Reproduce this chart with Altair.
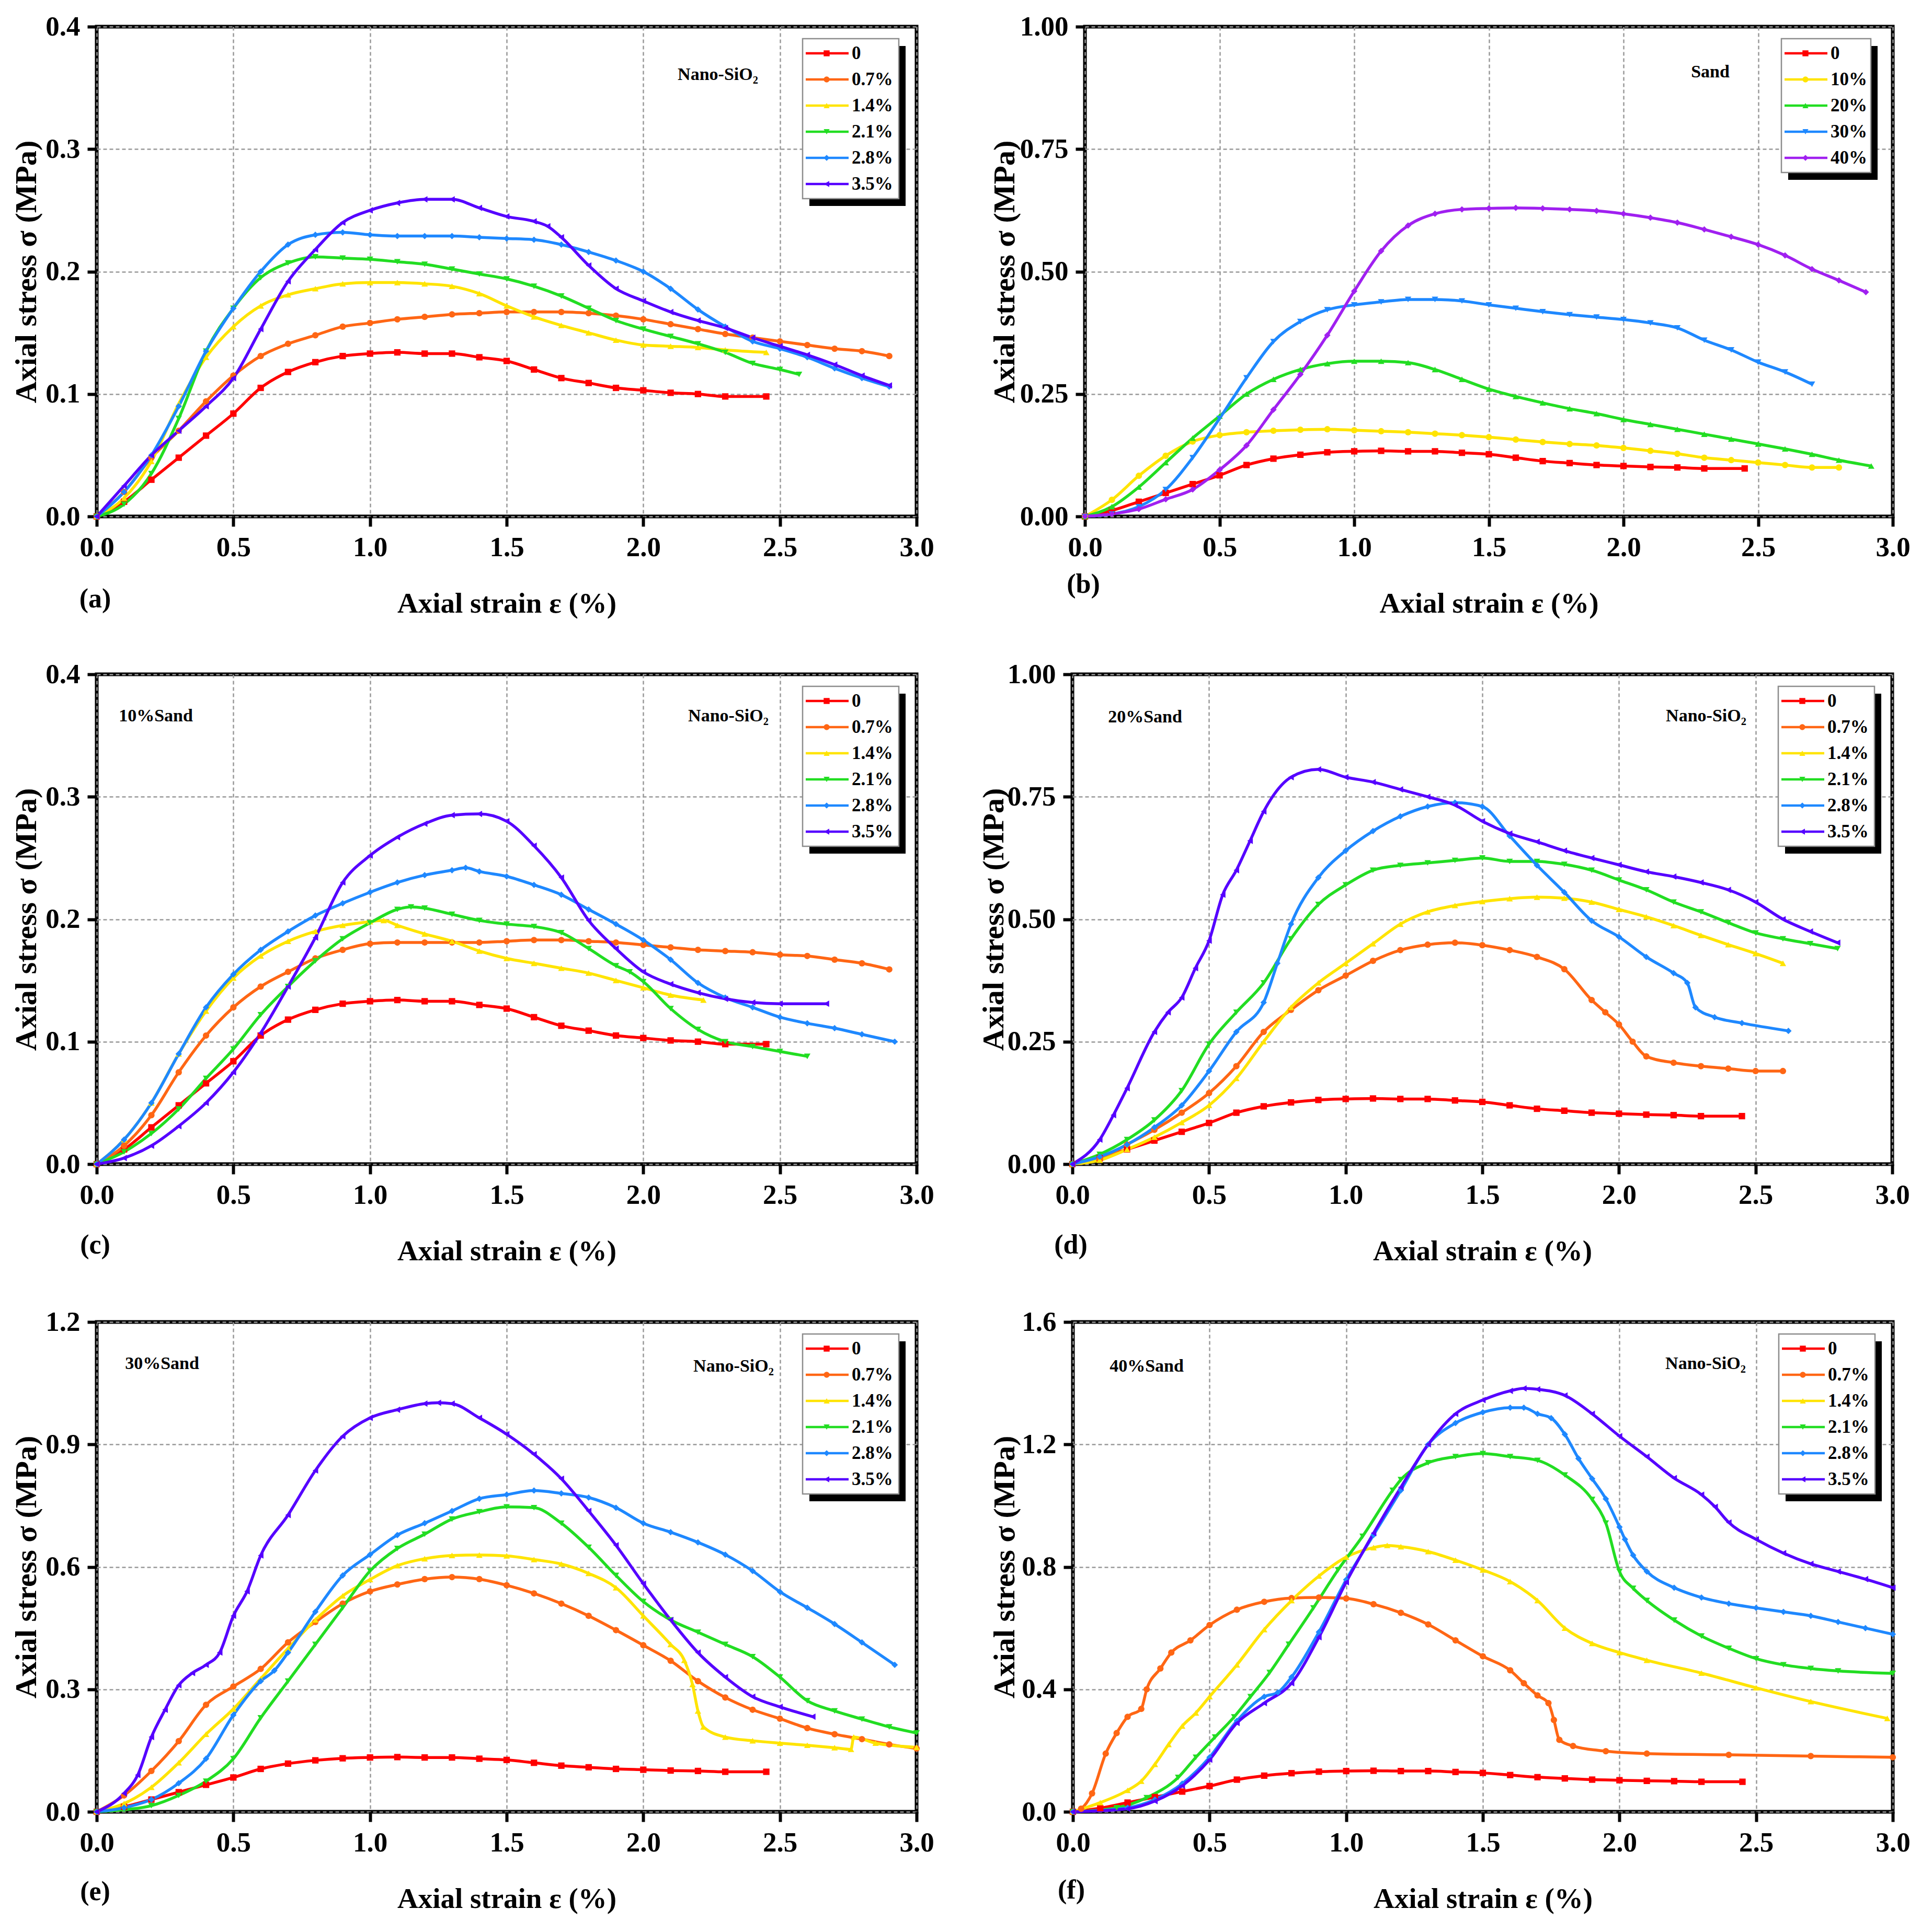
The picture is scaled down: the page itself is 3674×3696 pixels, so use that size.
import altair as alt
import pandas as pd

FONT = "Liberation Serif"
H = 937
XMAX = 3.0
STRAIN_TICKS = [0.0, 0.5, 1.0, 1.5, 2.0, 2.5, 3.0]

NANO_LABELS = ["0", "0.7%", "1.4%", "2.1%", "2.8%", "3.5%"]
NANO_COLORS = ["#FF0000", "#FF6614", "#FFE400", "#22DD22", "#1E88FF", "#5500FF"]
SAND_LABELS = ["0", "10%", "20%", "30%", "40%"]
SAND_COLORS = ["#FF0000", "#FFE400", "#22DD22", "#1E88FF", "#A020F0"]
SHAPES = ["square", "circle", "triangle-up", "triangle-down", "diamond", "triangle-left"]

# ---- base specimen (0) shared by all panels ----
BASE = [(0, 0), (0.1, 0.012), (0.2, 0.03), (0.3, 0.048), (0.4, 0.066), (0.5, 0.084), (0.6, 0.105),
        (0.7, 0.118), (0.8, 0.126), (0.9, 0.131), (1.0, 0.133), (1.1, 0.134), (1.2, 0.133), (1.3, 0.133),
        (1.4, 0.13), (1.5, 0.127), (1.6, 0.12), (1.7, 0.113), (1.8, 0.109), (1.9, 0.105), (2.0, 0.103),
        (2.1, 0.101), (2.2, 0.1), (2.3, 0.098), (2.45, 0.098)]

# ---- (a) Nano-SiO2 only ----
A_07 = [(0, 0), (0.1, 0.02), (0.2, 0.048), (0.3, 0.07), (0.4, 0.094), (0.5, 0.115), (0.6, 0.131), (0.7, 0.141),
        (0.8, 0.148), (0.9, 0.155), (1.0, 0.158), (1.1, 0.161), (1.2, 0.163), (1.3, 0.165), (1.4, 0.166),
        (1.5, 0.167), (1.6, 0.167), (1.7, 0.167), (1.8, 0.166), (1.9, 0.164), (2.0, 0.161), (2.1, 0.157),
        (2.2, 0.153), (2.3, 0.149), (2.4, 0.146), (2.5, 0.143), (2.6, 0.14), (2.7, 0.137), (2.8, 0.135), (2.9, 0.131)]
A_14 = [(0, 0), (0.1, 0.015), (0.2, 0.045), (0.3, 0.092), (0.4, 0.13), (0.5, 0.155), (0.6, 0.172), (0.7, 0.181),
        (0.8, 0.186), (0.9, 0.19), (1.0, 0.191), (1.1, 0.191), (1.2, 0.19), (1.3, 0.188), (1.4, 0.182),
        (1.5, 0.172), (1.6, 0.163), (1.7, 0.156), (1.8, 0.15), (1.9, 0.144), (2.0, 0.14), (2.1, 0.139),
        (2.2, 0.138), (2.3, 0.136), (2.45, 0.134)]
A_21 = [(0, 0), (0.1, 0.01), (0.2, 0.035), (0.3, 0.08), (0.4, 0.135), (0.5, 0.17), (0.6, 0.195), (0.7, 0.207),
        (0.8, 0.212), (0.9, 0.211), (1.0, 0.21), (1.1, 0.208), (1.2, 0.206), (1.3, 0.202), (1.4, 0.198),
        (1.5, 0.194), (1.6, 0.188), (1.7, 0.18), (1.8, 0.17), (1.9, 0.16), (2.0, 0.153), (2.1, 0.147),
        (2.2, 0.141), (2.3, 0.134), (2.4, 0.125), (2.5, 0.12), (2.57, 0.116)]
A_28 = [(0, 0), (0.1, 0.02), (0.2, 0.05), (0.3, 0.09), (0.4, 0.135), (0.5, 0.17), (0.6, 0.2), (0.7, 0.222),
        (0.8, 0.23), (0.9, 0.232), (1.0, 0.23), (1.1, 0.229), (1.2, 0.229), (1.3, 0.229), (1.4, 0.228),
        (1.5, 0.227), (1.6, 0.226), (1.7, 0.222), (1.8, 0.216), (1.9, 0.209), (2.0, 0.2), (2.1, 0.186),
        (2.2, 0.169), (2.3, 0.155), (2.4, 0.143), (2.5, 0.137), (2.6, 0.13), (2.7, 0.121), (2.8, 0.113), (2.9, 0.106)]
A_35 = [(0, 0), (0.1, 0.025), (0.2, 0.05), (0.3, 0.07), (0.4, 0.09), (0.5, 0.113), (0.6, 0.153), (0.7, 0.192),
        (0.8, 0.218), (0.9, 0.24), (1.0, 0.25), (1.1, 0.256), (1.2, 0.259), (1.3, 0.259), (1.4, 0.252),
        (1.5, 0.245), (1.6, 0.241), (1.65, 0.237), (1.7, 0.228), (1.8, 0.205), (1.9, 0.186), (2.0, 0.176),
        (2.1, 0.167), (2.2, 0.16), (2.3, 0.154), (2.4, 0.146), (2.5, 0.139), (2.6, 0.132), (2.7, 0.124),
        (2.8, 0.115), (2.9, 0.107)]

# ---- (b) Sand only ----
B_10 = [(0, 0), (0.1, 0.034), (0.2, 0.083), (0.3, 0.124), (0.4, 0.153), (0.5, 0.166), (0.6, 0.172), (0.7, 0.175),
        (0.8, 0.177), (0.9, 0.178), (1.0, 0.176), (1.1, 0.174), (1.2, 0.172), (1.3, 0.169), (1.4, 0.166),
        (1.5, 0.162), (1.6, 0.157), (1.7, 0.152), (1.8, 0.148), (1.9, 0.145), (2.0, 0.14), (2.1, 0.134),
        (2.2, 0.128), (2.3, 0.12), (2.4, 0.115), (2.5, 0.11), (2.6, 0.105), (2.7, 0.1), (2.8, 0.1)]
B_20 = [(0, 0), (0.1, 0.02), (0.2, 0.06), (0.3, 0.11), (0.4, 0.16), (0.5, 0.205), (0.6, 0.25), (0.7, 0.28),
        (0.8, 0.3), (0.9, 0.312), (1.0, 0.317), (1.1, 0.317), (1.2, 0.314), (1.3, 0.3), (1.4, 0.28), (1.5, 0.26),
        (1.6, 0.245), (1.7, 0.232), (1.8, 0.22), (1.9, 0.21), (2.0, 0.198), (2.1, 0.188), (2.2, 0.178),
        (2.3, 0.168), (2.4, 0.158), (2.5, 0.148), (2.6, 0.138), (2.7, 0.127), (2.8, 0.115), (2.92, 0.103)]
B_30 = [(0, 0), (0.1, 0.005), (0.2, 0.02), (0.3, 0.055), (0.4, 0.12), (0.5, 0.2), (0.6, 0.283), (0.7, 0.357),
        (0.8, 0.398), (0.9, 0.422), (1.0, 0.432), (1.1, 0.438), (1.2, 0.443), (1.3, 0.443), (1.4, 0.44),
        (1.5, 0.432), (1.6, 0.425), (1.7, 0.418), (1.8, 0.412), (1.9, 0.407), (2.0, 0.402), (2.1, 0.395),
        (2.2, 0.385), (2.3, 0.36), (2.4, 0.34), (2.5, 0.315), (2.6, 0.295), (2.7, 0.27)]
B_40 = [(0, 0), (0.1, 0.005), (0.2, 0.015), (0.3, 0.035), (0.4, 0.055), (0.5, 0.095), (0.6, 0.145), (0.7, 0.218),
        (0.8, 0.29), (0.9, 0.37), (1.0, 0.46), (1.1, 0.542), (1.2, 0.594), (1.3, 0.618), (1.4, 0.627),
        (1.5, 0.629), (1.6, 0.63), (1.7, 0.629), (1.8, 0.627), (1.9, 0.624), (2.0, 0.618), (2.1, 0.61),
        (2.2, 0.6), (2.3, 0.586), (2.4, 0.571), (2.5, 0.555), (2.6, 0.533), (2.7, 0.505), (2.8, 0.482), (2.9, 0.458)]

# ---- (c) 10% Sand ----
C_07 = [(0, 0), (0.1, 0.015), (0.2, 0.04), (0.3, 0.075), (0.4, 0.105), (0.5, 0.128), (0.6, 0.145), (0.7, 0.157),
        (0.8, 0.168), (0.9, 0.175), (1.0, 0.18), (1.1, 0.181), (1.2, 0.181), (1.3, 0.181), (1.4, 0.181),
        (1.5, 0.182), (1.6, 0.183), (1.7, 0.183), (1.8, 0.182), (1.9, 0.181), (2.0, 0.179), (2.1, 0.177),
        (2.2, 0.175), (2.3, 0.174), (2.4, 0.173), (2.5, 0.171), (2.6, 0.17), (2.7, 0.167), (2.8, 0.164), (2.9, 0.159)]
C_14 = [(0, 0), (0.1, 0.02), (0.2, 0.05), (0.3, 0.09), (0.4, 0.125), (0.5, 0.152), (0.6, 0.17), (0.7, 0.182),
        (0.8, 0.19), (0.9, 0.195), (1.0, 0.198), (1.05, 0.199), (1.1, 0.195), (1.2, 0.188), (1.3, 0.182),
        (1.4, 0.174), (1.5, 0.168), (1.6, 0.164), (1.7, 0.16), (1.8, 0.156), (1.9, 0.15), (2.0, 0.144),
        (2.1, 0.138), (2.22, 0.134)]
C_21 = [(0, 0), (0.1, 0.01), (0.2, 0.025), (0.3, 0.045), (0.4, 0.07), (0.5, 0.094), (0.6, 0.122), (0.7, 0.145),
        (0.8, 0.166), (0.9, 0.184), (1.0, 0.197), (1.1, 0.208), (1.15, 0.21), (1.2, 0.209), (1.3, 0.204),
        (1.4, 0.199), (1.5, 0.196), (1.6, 0.194), (1.7, 0.189), (1.8, 0.176), (1.9, 0.162), (1.95, 0.157),
        (2.0, 0.149), (2.1, 0.127), (2.2, 0.11), (2.3, 0.1), (2.4, 0.096), (2.5, 0.092), (2.6, 0.088)]
C_28 = [(0, 0), (0.1, 0.02), (0.2, 0.05), (0.3, 0.09), (0.4, 0.128), (0.5, 0.155), (0.6, 0.175), (0.7, 0.19),
        (0.8, 0.203), (0.9, 0.213), (1.0, 0.222), (1.1, 0.23), (1.2, 0.236), (1.3, 0.24), (1.35, 0.242),
        (1.4, 0.239), (1.5, 0.235), (1.6, 0.228), (1.7, 0.22), (1.8, 0.208), (1.9, 0.196), (2.0, 0.183),
        (2.1, 0.167), (2.2, 0.148), (2.3, 0.136), (2.4, 0.128), (2.5, 0.12), (2.6, 0.115), (2.7, 0.111),
        (2.8, 0.106), (2.92, 0.1)]
C_35 = [(0, 0), (0.1, 0.005), (0.2, 0.015), (0.3, 0.031), (0.4, 0.05), (0.5, 0.075), (0.6, 0.107), (0.7, 0.145),
        (0.8, 0.185), (0.9, 0.23), (1.0, 0.252), (1.1, 0.267), (1.2, 0.278), (1.3, 0.285), (1.4, 0.286),
        (1.5, 0.28), (1.6, 0.26), (1.7, 0.234), (1.8, 0.199), (1.9, 0.176), (2.0, 0.157), (2.1, 0.147),
        (2.2, 0.14), (2.3, 0.135), (2.4, 0.132), (2.5, 0.131), (2.67, 0.131)]

# ---- (d) 20% Sand ----
D_07 = [(0, 0), (0.1, 0.01), (0.2, 0.04), (0.3, 0.07), (0.4, 0.105), (0.5, 0.145), (0.6, 0.2), (0.7, 0.27),
        (0.8, 0.315), (0.9, 0.355), (1.0, 0.385), (1.1, 0.415), (1.2, 0.437), (1.3, 0.448), (1.4, 0.452),
        (1.5, 0.447), (1.6, 0.437), (1.7, 0.423), (1.8, 0.398), (1.9, 0.335), (1.95, 0.31), (2.0, 0.285),
        (2.05, 0.25), (2.1, 0.22), (2.2, 0.207), (2.3, 0.2), (2.4, 0.195), (2.5, 0.19), (2.6, 0.19)]
D_14 = [(0, 0), (0.1, 0.008), (0.2, 0.03), (0.3, 0.055), (0.4, 0.085), (0.5, 0.12), (0.6, 0.175), (0.7, 0.25),
        (0.8, 0.32), (0.9, 0.37), (1.0, 0.41), (1.1, 0.45), (1.2, 0.49), (1.3, 0.515), (1.4, 0.528),
        (1.5, 0.536), (1.6, 0.542), (1.7, 0.545), (1.8, 0.543), (1.9, 0.535), (2.0, 0.52), (2.1, 0.505),
        (2.2, 0.487), (2.3, 0.467), (2.4, 0.448), (2.5, 0.43), (2.6, 0.41)]
D_21 = [(0, 0), (0.1, 0.02), (0.2, 0.05), (0.3, 0.09), (0.4, 0.15), (0.5, 0.245), (0.6, 0.31), (0.7, 0.37),
        (0.8, 0.46), (0.9, 0.53), (1.0, 0.57), (1.1, 0.6), (1.2, 0.61), (1.3, 0.615), (1.4, 0.62), (1.5, 0.625),
        (1.6, 0.618), (1.7, 0.618), (1.8, 0.612), (1.9, 0.6), (2.0, 0.58), (2.1, 0.56), (2.2, 0.535),
        (2.3, 0.515), (2.4, 0.493), (2.5, 0.472), (2.6, 0.46), (2.7, 0.45), (2.8, 0.44)]
D_28 = [(0, 0), (0.1, 0.015), (0.2, 0.04), (0.3, 0.075), (0.4, 0.12), (0.5, 0.19), (0.6, 0.27), (0.7, 0.33),
        (0.75, 0.41), (0.8, 0.49), (0.9, 0.585), (1.0, 0.64), (1.1, 0.68), (1.2, 0.71), (1.3, 0.73),
        (1.4, 0.738), (1.5, 0.73), (1.6, 0.67), (1.7, 0.61), (1.8, 0.555), (1.9, 0.497), (2.0, 0.464),
        (2.1, 0.423), (2.2, 0.39), (2.25, 0.37), (2.28, 0.32), (2.35, 0.3), (2.45, 0.288), (2.62, 0.272)]
D_35 = [(0, 0), (0.1, 0.05), (0.15, 0.1), (0.2, 0.155), (0.3, 0.27), (0.35, 0.31), (0.4, 0.34), (0.45, 0.4),
        (0.5, 0.456), (0.55, 0.55), (0.6, 0.6), (0.65, 0.66), (0.7, 0.72), (0.8, 0.79), (0.9, 0.806),
        (1.0, 0.79), (1.1, 0.78), (1.2, 0.765), (1.3, 0.75), (1.4, 0.733), (1.5, 0.7), (1.6, 0.675),
        (1.7, 0.658), (1.8, 0.64), (1.9, 0.625), (2.0, 0.611), (2.1, 0.597), (2.2, 0.587), (2.3, 0.575),
        (2.4, 0.56), (2.5, 0.535), (2.6, 0.5), (2.7, 0.475), (2.8, 0.452)]

# ---- (e) 30% Sand ----
E_07 = [(0, 0), (0.1, 0.04), (0.2, 0.1), (0.3, 0.173), (0.4, 0.262), (0.5, 0.307), (0.6, 0.35), (0.7, 0.415),
        (0.8, 0.465), (0.9, 0.51), (1.0, 0.54), (1.1, 0.557), (1.2, 0.57), (1.3, 0.575), (1.4, 0.57),
        (1.5, 0.555), (1.6, 0.535), (1.7, 0.51), (1.8, 0.48), (1.9, 0.445), (2.0, 0.408), (2.1, 0.37),
        (2.2, 0.32), (2.3, 0.28), (2.4, 0.25), (2.5, 0.228), (2.6, 0.205), (2.7, 0.19), (2.8, 0.178),
        (2.9, 0.165), (3.0, 0.155)]
E_14 = [(0, 0), (0.1, 0.02), (0.2, 0.06), (0.3, 0.12), (0.4, 0.19), (0.5, 0.252), (0.6, 0.326), (0.7, 0.4),
        (0.8, 0.47), (0.9, 0.529), (1.0, 0.569), (1.1, 0.603), (1.2, 0.62), (1.3, 0.628), (1.4, 0.629),
        (1.5, 0.627), (1.6, 0.618), (1.7, 0.607), (1.8, 0.584), (1.9, 0.549), (2.0, 0.48), (2.1, 0.41),
        (2.15, 0.371), (2.18, 0.312), (2.2, 0.247), (2.22, 0.208), (2.3, 0.183), (2.4, 0.174), (2.5, 0.168),
        (2.6, 0.163), (2.7, 0.157), (2.76, 0.153), (2.77, 0.183), (2.85, 0.168), (3.0, 0.158)]
E_21 = [(0, 0), (0.1, 0.005), (0.2, 0.015), (0.3, 0.04), (0.4, 0.075), (0.5, 0.13), (0.6, 0.23), (0.7, 0.32),
        (0.8, 0.41), (0.9, 0.5), (1.0, 0.59), (1.1, 0.645), (1.2, 0.68), (1.3, 0.717), (1.4, 0.735),
        (1.5, 0.747), (1.6, 0.745), (1.7, 0.707), (1.8, 0.648), (1.9, 0.579), (2.0, 0.515), (2.1, 0.47),
        (2.2, 0.44), (2.3, 0.41), (2.4, 0.38), (2.5, 0.33), (2.6, 0.272), (2.7, 0.247), (2.8, 0.227),
        (2.9, 0.208), (3.0, 0.193)]
E_28 = [(0, 0), (0.1, 0.01), (0.2, 0.03), (0.3, 0.07), (0.4, 0.13), (0.5, 0.237), (0.6, 0.32), (0.65, 0.346),
        (0.7, 0.39), (0.8, 0.49), (0.9, 0.579), (1.0, 0.63), (1.1, 0.678), (1.2, 0.707), (1.3, 0.737),
        (1.4, 0.767), (1.5, 0.777), (1.6, 0.787), (1.7, 0.78), (1.8, 0.77), (1.9, 0.745), (2.0, 0.707),
        (2.1, 0.685), (2.2, 0.66), (2.3, 0.63), (2.4, 0.59), (2.5, 0.539), (2.6, 0.5), (2.7, 0.46),
        (2.8, 0.415), (2.92, 0.36)]
E_35 = [(0, 0), (0.1, 0.045), (0.15, 0.09), (0.2, 0.183), (0.25, 0.25), (0.3, 0.31), (0.35, 0.34), (0.4, 0.36),
        (0.45, 0.39), (0.5, 0.48), (0.55, 0.54), (0.6, 0.628), (0.7, 0.727), (0.8, 0.836), (0.9, 0.92),
        (1.0, 0.965), (1.1, 0.985), (1.2, 1.0), (1.25, 1.002), (1.3, 1.0), (1.4, 0.965), (1.5, 0.925),
        (1.6, 0.876), (1.7, 0.816), (1.8, 0.737), (1.9, 0.653), (2.0, 0.559), (2.1, 0.47), (2.2, 0.39),
        (2.3, 0.33), (2.4, 0.282), (2.5, 0.257), (2.62, 0.233)]

# ---- (f) 40% Sand ----
F_07 = [(0, 0), (0.03, 0.01), (0.07, 0.06), (0.12, 0.19), (0.16, 0.257), (0.2, 0.31), (0.25, 0.336), (0.27, 0.4),
        (0.32, 0.468), (0.36, 0.52), (0.43, 0.56), (0.5, 0.61), (0.6, 0.66), (0.7, 0.686), (0.8, 0.698),
        (0.9, 0.7), (1.0, 0.697), (1.1, 0.678), (1.2, 0.65), (1.3, 0.612), (1.4, 0.56), (1.5, 0.508),
        (1.6, 0.462), (1.65, 0.42), (1.7, 0.38), (1.74, 0.355), (1.76, 0.3), (1.78, 0.235), (1.83, 0.215),
        (1.95, 0.198), (2.1, 0.19), (2.4, 0.186), (2.7, 0.182), (3.0, 0.178)]
F_14 = [(0, 0), (0.1, 0.03), (0.2, 0.07), (0.25, 0.1), (0.3, 0.155), (0.35, 0.22), (0.4, 0.28), (0.45, 0.323),
        (0.5, 0.376), (0.6, 0.48), (0.7, 0.595), (0.8, 0.69), (0.9, 0.77), (1.0, 0.832), (1.1, 0.863),
        (1.15, 0.87), (1.2, 0.866), (1.3, 0.85), (1.4, 0.822), (1.5, 0.79), (1.6, 0.752), (1.7, 0.69),
        (1.8, 0.6), (1.9, 0.55), (2.0, 0.52), (2.1, 0.495), (2.3, 0.453), (2.5, 0.405), (2.7, 0.36), (2.98, 0.305)]
F_21 = [(0, 0), (0.16, 0.013), (0.27, 0.046), (0.385, 0.112), (0.45, 0.178), (0.52, 0.244), (0.59, 0.31),
        (0.65, 0.376), (0.72, 0.455), (0.79, 0.547), (0.88, 0.666), (0.97, 0.79), (1.06, 0.9), (1.17, 1.05),
        (1.2, 1.085), (1.3, 1.14), (1.4, 1.16), (1.5, 1.17), (1.6, 1.16), (1.7, 1.148), (1.8, 1.1), (1.9, 1.02),
        (1.95, 0.943), (2.0, 0.785), (2.05, 0.73), (2.1, 0.69), (2.2, 0.626), (2.3, 0.574), (2.4, 0.534),
        (2.5, 0.5), (2.6, 0.48), (2.7, 0.468), (2.8, 0.46), (3.0, 0.452)]
F_28 = [(0, 0), (0.2, 0.013), (0.3, 0.04), (0.4, 0.092), (0.5, 0.178), (0.6, 0.297), (0.7, 0.376), (0.75, 0.39),
        (0.8, 0.44), (0.9, 0.587), (1.0, 0.758), (1.1, 0.904), (1.2, 1.05), (1.3, 1.2), (1.4, 1.27),
        (1.5, 1.305), (1.6, 1.32), (1.65, 1.32), (1.7, 1.3), (1.75, 1.286), (1.8, 1.233), (1.85, 1.154),
        (1.9, 1.088), (1.95, 1.022), (2.0, 0.93), (2.02, 0.89), (2.05, 0.838), (2.1, 0.785), (2.2, 0.732),
        (2.3, 0.7), (2.4, 0.68), (2.5, 0.666), (2.6, 0.653), (2.7, 0.64), (2.8, 0.62), (2.9, 0.6), (3.0, 0.58)]
F_35 = [(0, 0), (0.2, 0.01), (0.3, 0.035), (0.4, 0.085), (0.5, 0.17), (0.6, 0.29), (0.7, 0.355), (0.8, 0.42),
        (0.9, 0.57), (1.0, 0.75), (1.1, 0.91), (1.2, 1.06), (1.3, 1.2), (1.4, 1.3), (1.5, 1.345), (1.6, 1.375),
        (1.65, 1.383), (1.7, 1.38), (1.8, 1.36), (1.9, 1.3), (2.0, 1.227), (2.1, 1.16), (2.2, 1.09),
        (2.3, 1.036), (2.35, 0.996), (2.4, 0.945), (2.5, 0.89), (2.6, 0.845), (2.7, 0.81), (2.8, 0.785),
        (2.9, 0.76), (3.0, 0.732)]


def build_panel(tag, labels, colors, series, ymax, yticks, yfmt, width, leg_left, leg_w,
                notes, title_x, tag_dy):
    rows = []
    for lab, pts in zip(labels, series):
        for x, y in pts:
            rows.append({"s": lab, "x": x, "y": y})
    df = pd.DataFrame(rows)

    xscale = alt.Scale(domain=[0, XMAX], nice=False, zero=False)
    yscale = alt.Scale(domain=[0, ymax], nice=False, zero=False)
    xaxis = alt.Axis(values=STRAIN_TICKS, format=".1f", title="Axial strain ε (%)",
                     labelFont=FONT, labelFontSize=53, labelFontWeight="bold", labelColor="black",
                     labelPadding=14, labelFlush=False, labelOverlap=False,
                     titleFont=FONT, titleFontSize=55, titleFontWeight="bold", titleColor="black",
                     titleY=166, titleBaseline="middle",
                     tickSize=19, tickWidth=6, tickColor="black", domain=False,
                     grid=True, gridColor="#999999", gridDash=[7, 5], gridWidth=2.5)
    yaxis = alt.Axis(values=yticks, format=yfmt, title="Axial stress σ (MPa)",
                     labelFont=FONT, labelFontSize=53, labelFontWeight="bold", labelColor="black",
                     labelPadding=14, labelFlush=False, labelOverlap=False,
                     titleFont=FONT, titleFontSize=58, titleFontWeight="bold", titleColor="black",
                     titleX=title_x, titleY=H / 2, titleAngle=270, titleBaseline="middle", titleAlign="center",
                     tickSize=18, tickWidth=6, tickColor="black", domain=False,
                     grid=True, gridColor="#999999", gridDash=[7, 5], gridWidth=2.5)

    def X(f):
        return alt.X(f, type="quantitative", scale=xscale, axis=xaxis, title="Axial strain ε (%)")

    def Y(f):
        return alt.Y(f, type="quantitative", scale=yscale, axis=yaxis, title="Axial stress σ (MPa)")

    color = alt.Color("s:N", scale=alt.Scale(domain=labels, range=colors), legend=None)
    shape = alt.Shape("s:N", scale=alt.Scale(domain=labels, range=SHAPES[:len(labels)]), legend=None)

    lines = alt.Chart(df).mark_line(interpolate="monotone", strokeWidth=5.5).encode(
        x=X("x"), y=Y("y"), color=color, detail="s:N")
    points = alt.Chart(df).mark_point(filled=True, size=150, opacity=1).encode(
        x=X("x"), y=Y("y"), color=color, shape=shape)

    # legend built from marks (box with drop shadow)
    n = len(labels)
    top = 23
    box_h = 56 + 50 * (n - 1)

    def fx(px):
        return px / width * XMAX

    def fy(py):
        return ymax * (1 - py / H)

    shadow_df = pd.DataFrame({"x1": [fx(leg_left + 13)], "x2": [fx(leg_left + leg_w + 13)],
                              "y1": [fy(top + 14)], "y2": [fy(top + box_h + 14)]})
    box_df = pd.DataFrame({"x1": [fx(leg_left)], "x2": [fx(leg_left + leg_w)],
                           "y1": [fy(top)], "y2": [fy(top + box_h)]})
    leg_df = pd.DataFrame({"s": labels,
                           "lx1": [fx(leg_left + 6)] * n, "lx2": [fx(leg_left + 88)] * n,
                           "mx": [fx(leg_left + 46)] * n, "tx": [fx(leg_left + 94)] * n,
                           "ly": [fy(top + 28 + 50 * i) for i in range(n)]})

    shadow = alt.Chart(shadow_df).mark_rect(color="black").encode(
        x=X("x1"), x2=alt.X2("x2"), y=Y("y1"), y2=alt.Y2("y2"))
    box = alt.Chart(box_df).mark_rect(fill="white", stroke="#8C8C8C", strokeWidth=2.5).encode(
        x=X("x1"), x2=alt.X2("x2"), y=Y("y1"), y2=alt.Y2("y2"))
    leg_lines = alt.Chart(leg_df).mark_rule(strokeWidth=4.5).encode(
        x=X("lx1"), x2=alt.X2("lx2"), y=Y("ly"), color=color)
    leg_pts = alt.Chart(leg_df).mark_point(filled=True, size=130, opacity=1).encode(
        x=X("mx"), y=Y("ly"), color=color, shape=shape)
    leg_txt = alt.Chart(leg_df).mark_text(align="left", baseline="middle", font=FONT, fontSize=35,
                                          fontWeight="bold", color="black").encode(
        x=X("tx"), y=Y("ly"), text="s:N")

    layers = [lines, points, shadow, box, leg_lines, leg_pts, leg_txt]
    for txt, px, py in notes:
        layers.append(alt.Chart(pd.DataFrame({"t": [txt]})).mark_text(
            align="center", baseline="middle", font=FONT, fontSize=34, fontWeight="bold",
            color="black").encode(x=alt.value(px), y=alt.value(py), text="t:N"))
    layers.append(alt.Chart(pd.DataFrame({"t": [tag]})).mark_text(
        align="center", baseline="middle", font=FONT, fontSize=52, fontWeight="bold",
        color="black").encode(x=alt.value(-3), y=alt.value(H + tag_dy), text="t:N"))

    return alt.layer(*layers).properties(width=width, height=H)


NANO = "Nano-SiO₂"
pa = build_panel("(a)", NANO_LABELS, NANO_COLORS, [BASE, A_07, A_14, A_21, A_28, A_35],
                 0.4, [0.0, 0.1, 0.2, 0.3, 0.4], ".1f", 1568, 1350, 184,
                 [(NANO, 1188, 92)], -134, 158)
pb = build_panel("(b)", SAND_LABELS, SAND_COLORS, [BASE, B_10, B_20, B_30, B_40],
                 1.0, [0.0, 0.25, 0.5, 0.75, 1.0], ".2f", 1545, 1332, 171,
                 [("Sand", 1196, 87)], -153, 130)
pc = build_panel("(c)", NANO_LABELS, NANO_COLORS, [BASE, C_07, C_14, C_21, C_28, C_35],
                 0.4, [0.0, 0.1, 0.2, 0.3, 0.4], ".1f", 1568, 1350, 184,
                 [(NANO, 1208, 80), ("10%Sand", 113, 80)], -134, 155)
pd_ = build_panel("(d)", NANO_LABELS, NANO_COLORS, [BASE, D_07, D_14, D_21, D_28, D_35],
                  1.0, [0.0, 0.25, 0.5, 0.75, 1.0], ".2f", 1568, 1350, 184,
                  [(NANO, 1212, 80), ("20%Sand", 139, 82)], -150, 155)
pe = build_panel("(e)", NANO_LABELS, NANO_COLORS, [BASE, E_07, E_14, E_21, E_28, E_35],
                 1.2, [0.0, 0.3, 0.6, 0.9, 1.2], ".1f", 1568, 1350, 184,
                 [(NANO, 1218, 85), ("30%Sand", 125, 80)], -134, 153)
pf = build_panel("(f)", NANO_LABELS, NANO_COLORS, [BASE, F_07, F_14, F_21, F_28, F_35],
                 1.6, [0.0, 0.4, 0.8, 1.2, 1.6], ".1f", 1568, 1350, 184,
                 [(NANO, 1210, 80), ("40%Sand", 141, 85)], -130, 150)

row1 = alt.hconcat(pa, pb, spacing=99).resolve_scale(color="independent", shape="independent")
row2 = alt.hconcat(pc, pd_, spacing=78).resolve_scale(color="independent", shape="independent")
row3 = alt.hconcat(pe, pf, spacing=99).resolve_scale(color="independent", shape="independent")

chart = alt.vconcat(row1, row2, row3, spacing=74).resolve_scale(
    color="independent", shape="independent"
).properties(
    padding={"left": 10, "top": 13, "right": 5, "bottom": 5},
    background="white",
).configure_view(stroke="black", strokeWidth=7)

chart.save("out.html", embed_options={"renderer": "svg", "actions": False})
